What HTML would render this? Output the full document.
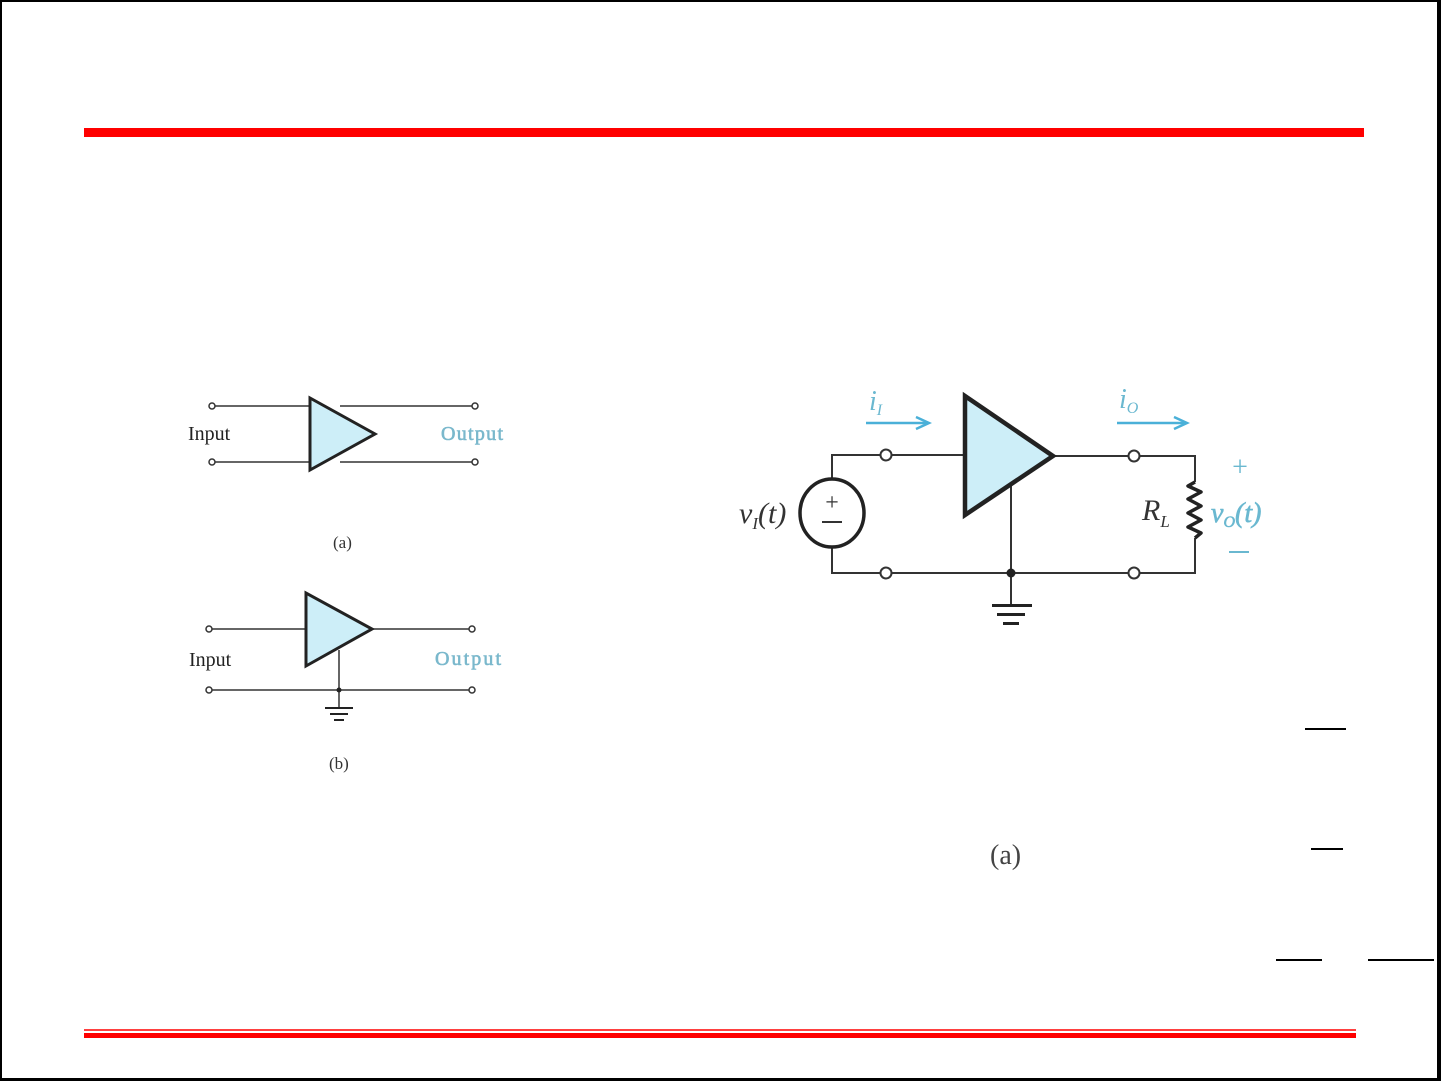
<!DOCTYPE html>
<html><head><meta charset="utf-8"><style>
html,body{margin:0;padding:0;background:#fff;}
svg{display:block;}
</style></head><body>
<svg width="1441" height="1081" viewBox="0 0 1441 1081" xmlns="http://www.w3.org/2000/svg">
<rect x="0" y="0" width="1441" height="1081" fill="#fff"/>
<rect x="0" y="0" width="1441" height="2" fill="#000"/>
<rect x="0" y="0" width="2" height="1081" fill="#000"/>
<rect x="1437" y="0" width="4" height="1081" fill="#000"/>
<rect x="0" y="1078" width="1441" height="3" fill="#000"/>
<rect x="84" y="128" width="1280" height="9" fill="#ff0000"/>
<rect x="84" y="1029" width="1272" height="2" fill="#ff4040"/>
<rect x="84" y="1033" width="1272" height="5" fill="#ff0000"/>

<g fill="#000">
<rect x="1305" y="728" width="41" height="2"/>
<rect x="1311" y="848" width="32" height="2"/>
<rect x="1276" y="959" width="46" height="2"/>
<rect x="1368" y="959" width="66" height="2"/>
</g>

<g stroke="#333" stroke-width="1.5" fill="none">
<line x1="215" y1="406" x2="309" y2="406"/>
<line x1="215" y1="462" x2="309" y2="462"/>
<line x1="340" y1="406" x2="472" y2="406"/>
<line x1="340" y1="462" x2="472" y2="462"/>
<circle cx="212" cy="406" r="3" fill="#fff"/>
<circle cx="212" cy="462" r="3" fill="#fff"/>
<circle cx="475" cy="406" r="3" fill="#fff"/>
<circle cx="475" cy="462" r="3" fill="#fff"/>
</g>
<polygon points="310,398 310,470 375,434" fill="#cdeef8" stroke="#222" stroke-width="3"/>
<text x="188" y="440" font-family="Liberation Serif, serif" font-size="20" fill="#222">Input</text>
<text x="441" y="440" font-family="Liberation Serif, serif" font-size="20" fill="#7ab8cc" stroke="#7ab8cc" stroke-width="0.6" textLength="62">Output</text>
<text x="333" y="548" font-family="Liberation Serif, serif" font-size="17" fill="#333">(a)</text>

<g stroke="#333" stroke-width="1.5" fill="none">
<line x1="212" y1="629" x2="305" y2="629"/>
<line x1="372" y1="629" x2="469" y2="629"/>
<line x1="212" y1="690" x2="469" y2="690"/>
<line x1="339" y1="650" x2="339" y2="707"/>
<circle cx="209" cy="629" r="3" fill="#fff"/>
<circle cx="209" cy="690" r="3" fill="#fff"/>
<circle cx="472" cy="629" r="3" fill="#fff"/>
<circle cx="472" cy="690" r="3" fill="#fff"/>
</g>
<polygon points="306,593 306,666 372,629" fill="#cdeef8" stroke="#222" stroke-width="3"/>
<circle cx="339" cy="690" r="2.5" fill="#222"/>
<g fill="#222">
<rect x="325" y="707" width="28" height="2"/>
<rect x="330" y="713" width="18" height="2"/>
<rect x="334" y="719" width="10" height="2"/>
</g>
<text x="189" y="666" font-family="Liberation Serif, serif" font-size="20" fill="#222">Input</text>
<text x="435" y="665" font-family="Liberation Serif, serif" font-size="20" fill="#7ab8cc" stroke="#7ab8cc" stroke-width="0.6" textLength="66">Output</text>
<text x="329" y="769" font-family="Liberation Serif, serif" font-size="17" fill="#333">(b)</text>

<g stroke="#333" stroke-width="2" fill="none">
<polyline points="832,479 832,455 881,455"/>
<line x1="891" y1="455" x2="965" y2="455"/>
<line x1="1053" y1="456" x2="1129" y2="456"/>
<polyline points="1139,456 1195,456 1195,482"/>
<polyline points="1195,538 1195,573 1139,573"/>
<polyline points="832,547 832,573 881,573"/>
<line x1="891" y1="573" x2="1129" y2="573"/>
<line x1="1011" y1="486" x2="1011" y2="605"/>
<circle cx="886" cy="455" r="5.5" fill="#fff"/>
<circle cx="886" cy="573" r="5.5" fill="#fff"/>
<circle cx="1134" cy="456" r="5.5" fill="#fff"/>
<circle cx="1134" cy="573" r="5.5" fill="#fff"/>
</g>
<polyline points="1195,482 1188,486 1201,492 1188,499 1201,506 1188,513 1201,520 1188,527 1201,533 1195,538" fill="none" stroke="#222" stroke-width="3.5" stroke-linejoin="round"/>
<ellipse cx="832" cy="513" rx="32" ry="34" fill="#fff" stroke="#222" stroke-width="3.5"/>
<text x="832" y="510" text-anchor="middle" font-family="Liberation Serif, serif" font-size="24" fill="#333">+</text>
<rect x="822" y="521" width="20" height="2" fill="#333"/>
<polygon points="965,396 965,515 1053,456" fill="#cdeef8" stroke="#222" stroke-width="4.5"/>
<circle cx="1011" cy="573" r="4.5" fill="#222"/>
<g fill="#222">
<rect x="992" y="604" width="40" height="3"/>
<rect x="997" y="613" width="28" height="3"/>
<rect x="1003" y="622" width="16" height="3"/>
</g>
<text x="739" y="523" font-family="Liberation Serif, serif" font-style="italic" font-size="30" fill="#333">v<tspan font-size="17" dy="6">I</tspan><tspan dy="-6">(t)</tspan></text>
<text x="1142" y="520" font-family="Liberation Serif, serif" font-style="italic" font-size="30" fill="#333">R<tspan font-size="17" dy="7">L</tspan></text>
<text x="869" y="410" font-family="Liberation Serif, serif" font-style="italic" font-size="28" fill="#6ab8d0">i<tspan font-size="16" dy="5">I</tspan></text>
<text x="1119" y="408" font-family="Liberation Serif, serif" font-style="italic" font-size="28" fill="#6ab8d0">i<tspan font-size="16" dy="5">O</tspan></text>
<g stroke="#4ab0d8" stroke-width="2.5" fill="none">
<line x1="866" y1="423" x2="928" y2="423"/>
<polyline points="916,417 929,423 916,429"/>
<line x1="1117" y1="423" x2="1186" y2="423"/>
<polyline points="1174,417 1187,423 1174,429"/>
</g>
<text x="1240" y="476" text-anchor="middle" font-family="Liberation Serif, serif" font-size="28" fill="#6ab8d0">+</text>
<text x="1211" y="522" font-family="Liberation Serif, serif" font-style="italic" font-size="28" fill="#6ab8d0" stroke="#6ab8d0" stroke-width="0.6">v<tspan font-size="16" dy="5">O</tspan><tspan dy="-5">(t)</tspan></text>
<rect x="1229" y="551" width="20" height="2" fill="#6ab8d0"/>
<text x="990" y="864" font-family="Liberation Serif, serif" font-size="28" fill="#444">(a)</text>
</svg>
</body></html>
